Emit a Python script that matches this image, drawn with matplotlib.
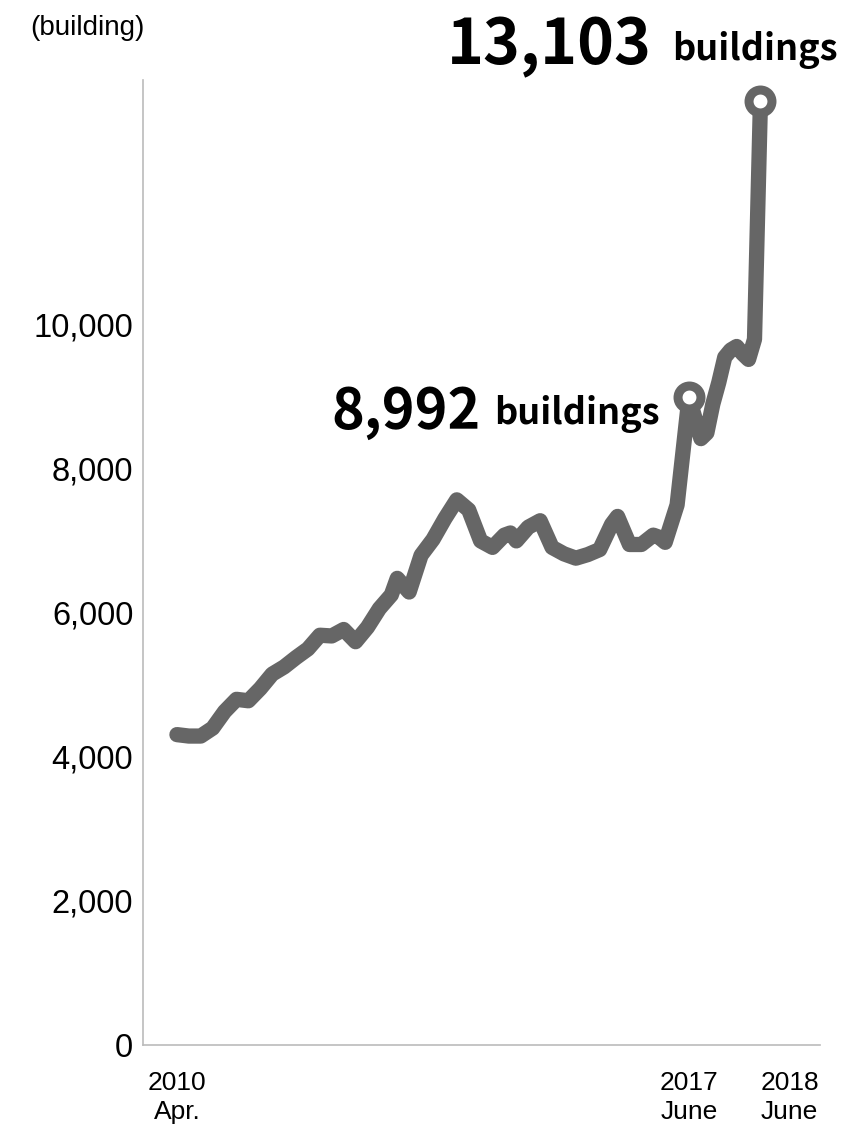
import numpy as np
import matplotlib.pyplot as plt
from matplotlib.ticker import FuncFormatter

# monthly count of buildings, months counted from 2010 Apr.
months = [0, 2, 4, 6, 8, 10, 12, 14, 16, 18, 20, 22, 24, 26, 28, 30, 32, 34, 36,
          37, 39, 41, 43, 45, 47, 49, 51, 53, 55, 56, 57, 59, 61, 63, 65, 67, 69,
          71, 73, 74, 76, 78, 80, 81, 82, 84, 86, 88, 89, 90, 91, 92, 93, 94, 95,
          96, 97, 98]
buildings = [4310, 4290, 4290, 4400, 4630, 4800, 4780, 4950, 5150, 5250, 5380,
             5500, 5690, 5680, 5770, 5600, 5800, 6060, 6250, 6480, 6290, 6800,
             7020, 7310, 7570, 7430, 7000, 6910, 7080, 7110, 7000, 7190, 7280,
             6910, 6820, 6760, 6810, 6880, 7230, 7340, 6950, 6950, 7080, 7050,
             6980, 7500, 8992, 8420, 8500, 8900, 9200, 9550, 9650, 9700, 9600,
             9520, 9800, 13103]

tick_months = [0, 86, 98]
tick_labels = ["2010\nApr.", "2017\nJune", "2018\nJune"]
y_ticks = [0, 2000, 4000, 6000, 8000, 10000]
highlight = [86, 98]

line_color = "#666666"
bold_font = "Noto Sans CJK JP"
fig = plt.figure(figsize=(8.49, 11.27), dpi=100)
ax = fig.add_axes([143 / 849, 82 / 1127, 677 / 849, 965 / 1127])

ax.plot(months, buildings, color=line_color, lw=11,
        solid_joinstyle="round", solid_capstyle="round", zorder=2)

for m in highlight:
    v = buildings[months.index(m)]
    ax.plot(m, v, "o", ms=16.5, mfc="white", mec=line_color, mew=6.5, zorder=3)

# value callouts
v1 = buildings[months.index(86)]
ax.annotate(f"{v1:,}", (86, v1), xytext=(-150, -22), textcoords="offset points",
            ha="right", va="baseline", fontsize=40, fontweight="bold",
            family=bold_font)
ax.annotate("buildings", (86, v1), xytext=(-21, -19), textcoords="offset points",
            ha="right", va="baseline", fontsize=26, fontweight="bold",
            family=bold_font)
v2 = buildings[months.index(98)]
ax.annotate(f"{v2:,}", (98, v2), xytext=(-78, 27), textcoords="offset points",
            ha="right", va="baseline", fontsize=45, fontweight="bold",
            family=bold_font)
ax.annotate("buildings", (98, v2), xytext=(56, 30), textcoords="offset points",
            ha="right", va="baseline", fontsize=26, fontweight="bold",
            family=bold_font)

ax.set_xlim(-5.7, 108)
ax.set_ylim(0, 13400)
ax.set_yticks(y_ticks)
ax.yaxis.set_major_formatter(FuncFormatter(lambda v, p: f"{int(v):,}"))
ax.set_xticks(tick_months)
ax.set_xticklabels(tick_labels, linespacing=1.25)

for lab in ax.get_yticklabels():
    lab.set_fontsize(23.5)
    lab.set_family("Liberation Sans")
for lab in ax.get_xticklabels():
    lab.set_fontsize(19)
    lab.set_family("Liberation Sans")
# last date label starts at its tick so it clears 2017 June
ax.get_xticklabels()[-1].set_ha("left")

ax.tick_params(axis="y", length=0, pad=7)
ax.tick_params(axis="x", length=0, pad=19)

for s in ["top", "right"]:
    ax.spines[s].set_visible(False)
for s in ["left", "bottom"]:
    ax.spines[s].set_color("#bbbbbb")
    ax.spines[s].set_linewidth(1.2)

fig.text(30 / 849, 1 - 28 / 1127, "(building)", fontsize=20,
         family="Liberation Sans", va="center", ha="left")

fig.savefig("out.png", dpi=100)
